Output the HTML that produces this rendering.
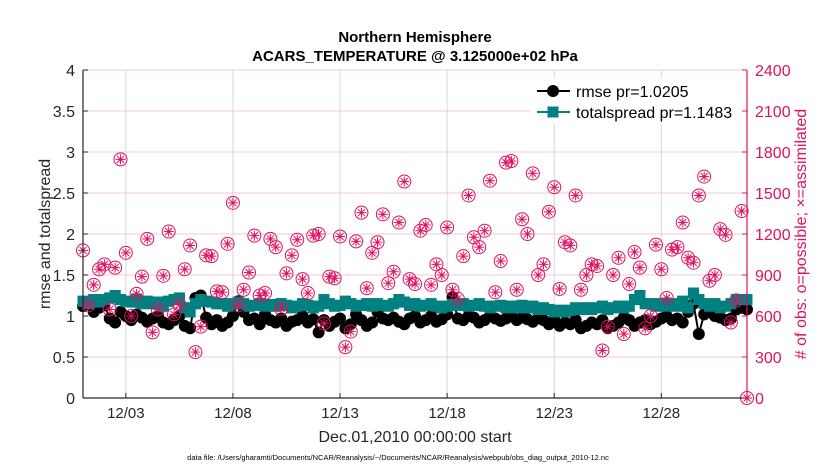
<!DOCTYPE html>
<html><head><meta charset="utf-8"><style>
body{margin:0;background:#fff;}
svg{display:block;font-family:"Liberation Sans",Arial,sans-serif;}
</style></head><body>
<svg id="chart" width="830" height="470"></svg>
<script>
const rmse=[1.12,1.15,1.05,1.1,1.13,0.97,0.92,1.05,1.0,0.95,1.02,0.98,0.93,0.97,1.0,0.92,0.9,0.95,1.0,0.88,
0.85,1.22,1.25,0.98,0.9,0.95,0.88,0.92,1.0,1.18,1.05,0.95,0.97,0.9,1.02,0.95,0.92,0.97,0.88,0.93,
0.95,1.0,0.92,0.96,0.8,0.95,0.88,0.93,0.97,0.85,0.9,1.02,0.95,0.88,0.92,1.05,0.97,0.95,0.98,0.93,
0.9,0.97,1.0,0.92,0.95,1.0,0.93,0.96,1.02,1.23,0.97,0.95,1.0,0.98,0.92,0.95,1.0,0.97,0.94,0.97,
1.0,0.95,0.98,0.96,0.93,0.97,0.95,0.9,0.95,0.88,0.92,0.9,0.95,0.85,0.88,0.92,0.9,0.95,0.85,0.88,
0.92,0.98,0.95,0.88,0.92,0.95,0.9,0.93,0.97,1.0,0.95,0.97,0.92,1.05,1.15,0.78,1.02,1.05,1.0,0.98,0.95,0.97,1.08,1.1,1.08];
const spread=[1.18,1.15,1.2,1.17,1.2,1.22,1.25,1.2,1.18,1.17,1.2,1.15,1.18,1.15,1.17,1.12,1.18,1.2,1.22,1.1,
1.05,1.15,1.2,1.18,1.17,1.15,1.15,1.12,1.15,1.17,1.15,1.12,1.13,1.15,1.12,1.14,1.12,1.15,1.13,1.1,
1.12,1.15,1.13,1.1,1.12,1.2,1.15,1.12,1.13,1.18,1.15,1.12,1.13,1.15,1.12,1.15,1.13,1.12,1.15,1.2,
1.17,1.13,1.15,1.12,1.13,1.15,1.12,1.1,1.12,1.14,1.13,1.15,1.12,1.13,1.15,1.12,1.1,1.12,1.13,1.1,
1.12,1.1,1.13,1.1,1.12,1.08,1.1,1.08,1.05,1.07,1.05,1.07,1.1,1.08,1.1,1.08,1.1,1.12,1.08,1.1,
1.12,1.1,1.12,1.2,1.25,1.15,1.15,1.12,1.15,1.12,1.15,1.12,1.18,1.1,1.28,1.2,1.15,1.12,1.15,1.1,1.12,1.15,1.2,1.2,1.2];
const obsCount=[1080,678,828,942,978,648,954,1746,1062,600,762,888,1164,480,648,894,1218,612,684,942,1116,336,522,1044,1038,780,774,1128,1428,678,792,918,1188,750,768,1164,1104,654,912,1044,1158,870,768,1188,1200,546,888,876,1182,372,486,1146,1356,804,1062,1140,1344,840,924,1284,1584,870,
834,1224,1266,828,978,900,1248,792,726,1038,1482,1176,1104,1224,1590,774,1002,1722,1734,792,1308,1200,1644,900,978,1362,1542,798,1140,1116,1482,792,900,978,966,348,522,900,1026,468,834,1068,954,510,600,1122,942,732,1086,1104,1284,1026,990,1482,1620,858,900,1236,1194,552,714,1368,0];
const xTickDays=[2,7,12,17,22,27];
const xTickLabels=["12/03","12/08","12/13","12/18","12/23","12/28"];
const yTicks=[0,0.5,1,1.5,2,2.5,3,3.5,4];
const yTickLabels=["0","0.5","1","1.5","2","2.5","3","3.5","4"];
const y2Ticks=[0,300,600,900,1200,1500,1800,2100,2400];

const NS="http://www.w3.org/2000/svg";
const svg=document.getElementById('chart');
const L=83,R=747,T=70,B=398,DAYS=31,RED="#e0115f",TEAL="#008080";
const xs=d=>L+(R-L)*d/DAYS;
const ys=v=>B-(B-T)*v/4;
const ys2=c=>B-(B-T)*c/2400;
function mk(tag,attrs,parent){const e=document.createElementNS(NS,tag);for(const k in attrs)e.setAttribute(k,attrs[k]);(parent||svg).appendChild(e);return e;}
function txt(s,attrs,parent){const e=mk('text',attrs,parent);e.textContent=s;return e;}

// grid
const grid=mk('g',{});


xTickDays.forEach(d=>mk('line',{x1:xs(d),x2:xs(d),y1:T,y2:B,stroke:"#d6d6d6","stroke-width":1},grid));
yTicks.forEach(v=>{if(v>0)mk('line',{x1:L,x2:R,y1:ys(v),y2:ys(v),stroke:"#f4c9d8","stroke-width":1},grid);});

// spread series
const sg=mk('g',{});


const dx=i=>i*0.25;
mk('polyline',{points:spread.map((v,i)=>xs(dx(i))+','+ys(v)).join(' '),fill:'none',stroke:TEAL,'stroke-width':2},sg);
spread.forEach((v,i)=>{const r=mk('rect',{x:xs(dx(i))-5.5,y:ys(v)-5.5,width:11,height:11,fill:TEAL},sg);

});

// rmse series
const rg=mk('g',{});


mk('polyline',{points:rmse.map((v,i)=>xs(dx(i))+','+ys(v)).join(' '),fill:'none',stroke:'#000','stroke-width':2},rg);
rmse.forEach((v,i)=>{const c=mk('circle',{cx:xs(dx(i)),cy:ys(v),r:6,fill:'#000'},rg);

});
// redraw spread markers on top partially (teal appears above black)
spread.forEach((v,i)=>{mk('rect',{x:xs(dx(i))-5.5,y:ys(v)-5.5,width:11,height:11,fill:TEAL},sg);});
svg.appendChild(sg);

// obs
const og=mk('g',{});


obsCount.forEach((c,i)=>{const x=xs(dx(i)),y=ys2(c);
const g=mk('g',{stroke:RED,fill:'none','stroke-width':1},og);


mk('circle',{cx:x,cy:y,r:6.5},g);
mk('line',{x1:x-5,x2:x+5,y1:y,y2:y},g);
mk('line',{x1:x,x2:x,y1:y-5,y2:y+5},g);
mk('line',{x1:x-3.5,x2:x+3.5,y1:y-3.5,y2:y+3.5},g);
mk('line',{x1:x-3.5,x2:x+3.5,y1:y+3.5,y2:y-3.5},g);});

// axes
const ax=mk('g',{});


mk('line',{x1:L,x2:L,y1:T,y2:B,stroke:'#262626','stroke-width':1.2},ax);
mk('line',{x1:L,x2:R,y1:B,y2:B,stroke:'#262626','stroke-width':1.2},ax);
mk('line',{x1:R,x2:R,y1:T,y2:B,stroke:RED,'stroke-width':1.2},ax);
yTicks.forEach((v,i)=>{mk('line',{x1:L,x2:L+5,y1:ys(v),y2:ys(v),stroke:'#262626'},ax);
const t=txt(yTickLabels[i],{x:L-8,y:ys(v)+6,'text-anchor':'end','font-size':16,fill:'#262626'},ax);

});
y2Ticks.forEach(c=>{mk('line',{x1:R-5,x2:R,y1:ys2(c),y2:ys2(c),stroke:RED},ax);
const t=txt(String(c),{x:R+8,y:ys2(c)+6,'font-size':16,fill:RED},ax);

});
xTickDays.forEach((d,i)=>{mk('line',{x1:xs(d),x2:xs(d),y1:B-5,y2:B,stroke:'#262626'},ax);
const t=txt(xTickLabels[i],{x:xs(d),y:B+20,'text-anchor':'middle','font-size':15,fill:'#262626'},ax);

});

// titles
const t1=txt('Northern Hemisphere',{x:415,y:42,'text-anchor':'middle','font-size':15,'font-weight':'bold',fill:'#000'});


const t2=txt('ACARS_TEMPERATURE @ 3.125000e+02 hPa',{x:415,y:61,'text-anchor':'middle','font-size':15,'font-weight':'bold',fill:'#000'});


const yl=txt('rmse and totalspread',{x:0,y:0,'text-anchor':'middle','font-size':16,fill:'#262626',transform:'translate(50,234) rotate(-90)'});


const y2l=txt('# of obs: o=possible; \u00d7=assimilated',{x:0,y:0,'text-anchor':'middle','font-size':16,fill:RED,transform:'translate(806,234) rotate(-90)'});


const xl=txt('Dec.01,2010 00:00:00 start',{x:415,y:442,'text-anchor':'middle','font-size':16,fill:'#262626'});


const fn=txt('data file: /Users/gharamti/Documents/NCAR/Reanalysis/~/Documents/NCAR/Reanalysis/webpub/obs_diag_output_2010-12.nc',{x:398,y:460,'text-anchor':'middle','font-size':7.5,fill:'#000'});



// legend
const lg=mk('g',{});


mk('rect',{x:530,y:78,width:212,height:46,fill:'#fff'},lg);
const e1=mk('g',{},lg);


mk('line',{x1:537,x2:570,y1:91,y2:91,stroke:'#000','stroke-width':2},e1);
mk('circle',{cx:553,cy:91,r:6,fill:'#000'},e1);
txt('rmse pr=1.0205',{x:576,y:97,'font-size':16,fill:'#000'},e1);
const e2=mk('g',{},lg);


mk('line',{x1:537,x2:570,y1:112,y2:112,stroke:TEAL,'stroke-width':2},e2);
mk('rect',{x:547.5,y:106.5,width:11,height:11,fill:TEAL},e2);
txt('totalspread pr=1.1483',{x:576,y:118,'font-size':16,fill:'#000'},e2);
</script>
</body></html>
